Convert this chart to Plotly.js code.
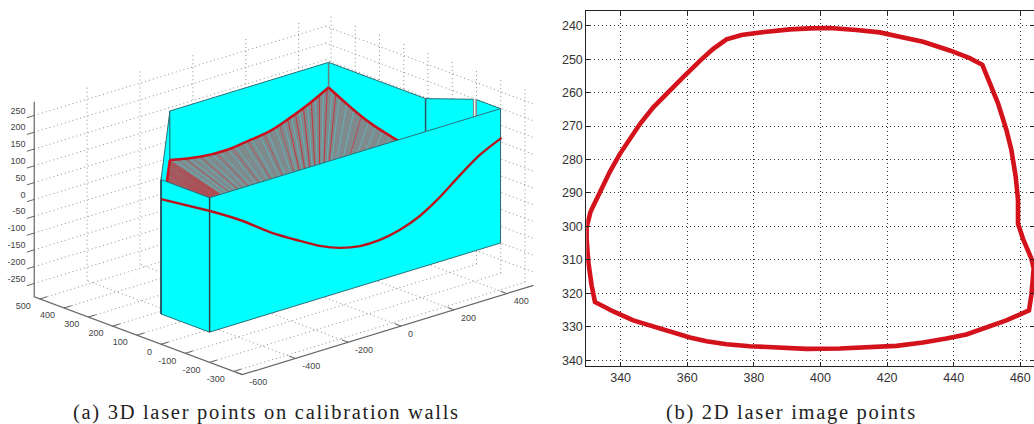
<!DOCTYPE html>
<html><head><meta charset="utf-8">
<script src="https://cdn.plot.ly/plotly-3.0.1.min.js"></script>
<style>html,body{margin:0;padding:0;background:#fff}#c{width:1034px;height:424px}
.annotation-text{letter-spacing:1.7px}</style>
</head><body><div id="c"></div>
<script>
// ---------- (a) world data (X, Y, Z) ----------
var wallFootX = [-600,-600,-200,400,400,496,500,500];
var wallFootY = [-200,0,400,400,0,-93,-100,-200];
var wallZTop = 200, wallZBottom = -200;

var frontLeftX = [-600,-598];
var frontLeftY = [0,-200];
var frontLeftZ = [142,160];
var frontMainX = [-598,-485,-372,-258,-183,-107,-31,44,120,195,260,347,422,504];
var frontMainZ = [160,106,43,-11,-44,-68,-81,-81,-69,-46,-14,39,81,112];
var frontMainY = -200;

var diagCurveX = [-450,-336,-270,-200];
var diagCurveY = [150,264,330,400];
var diagCurveZ = [60,55,54,54];
var rearCurveX = [-200,-86,15,90,178,254,330,400];
var rearCurveZ = [54,36,32,39,49,70,96,125];
var rearCurveY = 400;
var sideCurveY = [400,312,229,119,60,10];
var sideCurveZ = [125,92,66,45,36,30];
var sideCurveX = 400;

var rayOrigin = [0,0,-185];
var diagRayX = [-205,-212,-220,-228,-236,-245,-254,-262,-270,-279,-287,-295,-304,-312,-320,-328,-336];
var diagRayY = [395,388,380,372,364,355,346,338,330,321,313,305,296,288,280,272,264];
var diagRayZ = [54,54,54,54,54,54,54,54,54,55,55,55,55,55,55,55,55];
var rearRayX = [-190,-175,-160,-145,-130,-115,-100,-85,-70,-55,-40,-25,-10,5,20,35,50,65,80,95,110,125,140,155,170,185,200,215,230,245,260,275,290,305,320,335,350,365,380,395];
var rearRayZ = [54,51,48,46,43,41,38,36,35,34,33,33,32,32,32,33,34,36,38,39,41,43,45,47,48,50,55,60,65,69,72,77,82,87,92,98,104,110,116,122];
var sideRayY = [385,370,355,340,325,310,295,280,265,250,235,220,205,190,175,160,145,130];
var sideRayZ = [124,117,110,103,97,91,85,80,75,71,67,64,60,57,54,51,49,46];

var xTicks3d = [-600,-400,-200,0,200,400];
var yTicks3d = [500,400,300,200,100,0,-100,-200,-300];
var zTicks3d = [250,200,150,100,50,0,-50,-100,-150,-200,-250];
var boxX = [-600,501], boxY = [-335,523], boxZ = [-290,291];

// ---------- (b) laser image points ----------
var laserU = [331.0,333.8,336.8,339.8,342.8,345.8,349.8,353.8,358.8,363.8,367.8,371.8,376.3,381.3,386.8,390.8,396.8,402.8,410.8,417.8,423.8,430.8,438.8,444.8,448.6,450.8,453.3,455.8,457.3,458.6,459.3,459.3,460.8,463.3,464.0,463.3,462.6,455.8,449.8,443.8,437.8,430.8,422.8,413.8,405.8,395.8,386.8,378.8,371.8,365.8,360.8,355.8,349.8,343.8,337.8,332.3,331.3,330.3,329.8,329.8,331.0];
var laserV = [295.5,289.6,283.6,278.3,273.9,269.4,264.4,260.2,255.4,250.5,246.9,244.1,242.8,242.1,241.5,241.1,240.8,240.7,241.3,242.0,243.3,244.8,247.4,249.7,251.7,256.7,263.2,271.1,277.1,285.1,292.1,299.2,303.7,309.6,312.6,320.6,325.1,328.1,330.3,332.3,333.5,334.7,335.7,336.2,336.5,336.6,336.3,335.8,335.2,334.3,333.2,331.8,330.1,328.1,325.4,322.6,317.6,310.6,303.7,300.2,295.5];

var captionA = "(a) 3D laser points on calibration walls";
var captionB = "(b) 2D laser image points";

// ---------- oblique view of the MATLAB axes ----------
function px(X,Y){return 401+0.2645*X-0.2425*(Y+335);}
function py(X,Y,Z){return 326-0.081*X-0.0906*(Y+335)-0.336*(Z+290);}

var traces=[];
function seg(list,color,width,dash,shape){
  var xs=[],ys=[];
  list.forEach(function(s){s.forEach(function(p){xs.push(px(p[0],p[1]));ys.push(py(p[0],p[1],p[2]));});xs.push(null);ys.push(null);});
  traces.push({type:'scatter',mode:'lines',x:xs,y:ys,hoverinfo:'skip',showlegend:false,
    line:{color:color,width:width,dash:dash||'solid',shape:shape||'linear'},xaxis:'x',yaxis:'y'});
}
function poly(pts,fill,edge,w){
  traces.push({type:'scatter',mode:'lines',x:pts.map(function(p){return px(p[0],p[1]);}),y:pts.map(function(p){return py(p[0],p[1],p[2]);}),
    fill:'toself',fillcolor:fill,line:{color:edge,width:w},hoverinfo:'skip',showlegend:false,xaxis:'x',yaxis:'y'});
}
function wallPoly(i,j){
  return [[wallFootX[i],wallFootY[i],wallZTop],[wallFootX[j],wallFootY[j],wallZTop],[wallFootX[j],wallFootY[j],wallZBottom],[wallFootX[i],wallFootY[i],wallZBottom],[wallFootX[i],wallFootY[i],wallZTop]];
}
var xmin=boxX[0],xmax=boxX[1],ymin=boxY[0],ymax=boxY[1],zmin=boxZ[0],zmax=boxZ[1];
var g=[];
zTicks3d.forEach(function(z){g.push([[xmin,ymax,z],[xmax,ymax,z]]);g.push([[xmax,ymax,z],[xmax,ymin,z]]);});
xTicks3d.slice(1).forEach(function(x){g.push([[x,ymax,zmin],[x,ymax,zmax]]);g.push([[x,ymin,zmin],[x,ymax,zmin]]);});
yTicks3d.forEach(function(y){g.push([[xmax,y,zmin],[xmax,y,zmax]]);g.push([[xmin,y,zmin],[xmax,y,zmin]]);});
seg(g,'#8c8c8c',1,'1px,3px');

// axes
seg([[[xmin,ymax,zmax],[xmin,ymax,zmin],[xmin,ymin,zmin],[xmax,ymin,zmin]]],'#666',1.2);
var tk=[];
zTicks3d.forEach(function(z){tk.push([[xmin,ymax,z],[xmin-28,ymax,z]]);});
yTicks3d.forEach(function(y){tk.push([[xmin,y,zmin],[xmin+28,y,zmin]]);});
xTicks3d.forEach(function(x){tk.push([[x,ymin,zmin],[x,ymin+26,zmin]]);});
seg(tk,'#666',1);

function labels(xs,ys,text,pos){
  traces.push({type:'scatter',mode:'text',x:xs,y:ys,text:text,textposition:pos,cliponaxis:false,hoverinfo:'skip',showlegend:false,
    textfont:{family:'Liberation Sans',size:9,color:'#444'},xaxis:'x',yaxis:'y'});
}
labels(zTicks3d.map(function(){return 25.5;}),zTicks3d.map(function(z){return py(xmin,ymax,z)-4;}),zTicks3d.map(String),'middle left');
labels(yTicks3d.map(function(y){return px(xmin,y)-9;}),yTicks3d.map(function(y){return py(xmin,y,zmin)+8;}),yTicks3d.map(String),'middle left');
labels(xTicks3d.map(function(x){return px(x,ymin)+7;}),xTicks3d.map(function(x){return py(x,ymin,zmin)+8.5;}),xTicks3d.map(String),'middle right');

// rear walls
var edge='#2b6f78';
poly(wallPoly(1,2),'#00ffff',edge,1);
poly(wallPoly(2,3),'#00ffff',edge,1);
poly(wallPoly(3,4),'#00ffff',edge,1);
poly(wallPoly(4,5),'#00ffff',edge,1);
poly(wallPoly(6,7),'#00ffff',edge,1);

// laser fan
var diagPts=diagCurveX.map(function(v,i){return [v,diagCurveY[i],diagCurveZ[i]];});
var rearPts=rearCurveX.map(function(v,i){return [v,rearCurveY,rearCurveZ[i]];});
var sidePts=sideCurveY.map(function(v,i){return [sideCurveX,v,sideCurveZ[i]];});
var fan=diagPts.concat(rearPts,sidePts);
fan.push(rayOrigin);fan.push(fan[0]);
poly(fan,'#7f8a8c','rgba(0,0,0,0)',0);
var cy=[],rd=[],faint=[];
rearRayX.forEach(function(v,i){
  var r=[rayOrigin,[v,rearCurveY,rearRayZ[i]]];
  if(i%2===0)cy.push(r);
  if(i>=29&&i%2===1)rd.push(r); else if(i%4===3)faint.push(r);
});
sideRayY.forEach(function(v,i){
  var r=[rayOrigin,[sideCurveX,v,sideRayZ[i]]];
  if(i%2===0)cy.push(r);
  if(i<3&&i%2===1||i===8)rd.push(r);
});
var dr=diagRayX.map(function(v,i){return [rayOrigin,[v,diagRayY[i],diagRayZ[i]]];});
seg(cy,'#50cdd6',0.6);
seg(faint,'#c8383e',0.6);
seg(rd,'#e0141e',0.7);
seg(dr,'#dc141e',0.6);
seg([[[wallFootX[3],wallFootY[3],wallZTop],[wallFootX[3],wallFootY[3],125]]],'#6f7f80',1.5);
seg([[[wallFootX[4],wallFootY[4],wallZTop],[wallFootX[4],wallFootY[4],80]]],'#2d5a60',1.5);
seg([[[wallFootX[5],wallFootY[5],wallZTop],[wallFootX[5],wallFootY[5],120]],[[wallFootX[6],wallFootY[6],wallZTop],[wallFootX[6],wallFootY[6],120]]],'#808a8c',1.2);
seg([diagPts],'#d2141e',2.6);
seg([rearPts],'#c8141e',2.6,'solid','spline');
seg([sidePts],'#c8141e',2.6,'solid','spline');

// front walls
poly(wallPoly(0,1),'#00ffff',edge,1);
poly(wallPoly(7,0),'#00ffff',edge,1);
seg([[[wallFootX[1],wallFootY[1],wallZTop],[wallFootX[1],wallFootY[1],wallZBottom]]],'#21606a',2);
seg([[[wallFootX[0],wallFootY[0],wallZTop],[wallFootX[0],wallFootY[0],wallZBottom]]],'#2d3f44',1.4);
seg([frontLeftX.map(function(v,i){return [v,frontLeftY[i],frontLeftZ[i]];})],'#b8141e',2.4);
seg([frontMainX.map(function(v,i){return [v,frontMainY,frontMainZ[i]];})],'#b8141e',2.4,'solid','spline');

// (b)
traces.push({type:'scatter',mode:'lines',x:laserU,y:laserV,hoverinfo:'skip',showlegend:false,line:{color:'#d3121c',width:4.6},xaxis:'x2',yaxis:'y2',cliponaxis:false});

var W=1034,H=424;
var layout={width:W,height:H,margin:{l:0,r:0,t:0,b:0},paper_bgcolor:'#fff',plot_bgcolor:'#fff',showlegend:false,
  xaxis:{domain:[0,540/W],range:[0,540],visible:false,fixedrange:true},
  yaxis:{domain:[0,1],range:[424,0],visible:false,fixedrange:true},
  xaxis2:{domain:[586.3/W,1],range:[329.7,464.1],anchor:'y2',tick0:340,dtick:20,ticks:'inside',ticklen:4,tickcolor:'#222',
    showline:true,linecolor:'#222',linewidth:1,mirror:'ticks',showgrid:true,gridcolor:'#333',griddash:'1px,3px',gridwidth:1,zeroline:false,
    tickfont:{family:'Liberation Sans',size:12.5,color:'#333'},fixedrange:true},
  yaxis2:{domain:[(H-366.3)/H,(H-11.3)/H],range:[341.8,235.7],anchor:'x2',tick0:240,dtick:10,ticks:'inside',ticklen:4,tickcolor:'#222',
    showline:true,linecolor:'#222',linewidth:1,mirror:'ticks',showgrid:true,gridcolor:'#333',griddash:'1px,3px',gridwidth:1,zeroline:false,
    tickfont:{family:'Liberation Sans',size:12.5,color:'#333'},fixedrange:true},
  annotations:[
    {xref:'paper',yref:'paper',x:266/W,y:(H-412)/H,text:captionA,showarrow:false,font:{family:'Liberation Serif',size:20.5,color:'#222'},xanchor:'center',yanchor:'middle'},
    {xref:'paper',yref:'paper',x:791.5/W,y:(H-412)/H,text:captionB,showarrow:false,font:{family:'Liberation Serif',size:20.5,color:'#222'},xanchor:'center',yanchor:'middle'}
  ]};
Plotly.newPlot('c',traces,layout,{displayModeBar:false,staticPlot:true});
</script></body></html>
